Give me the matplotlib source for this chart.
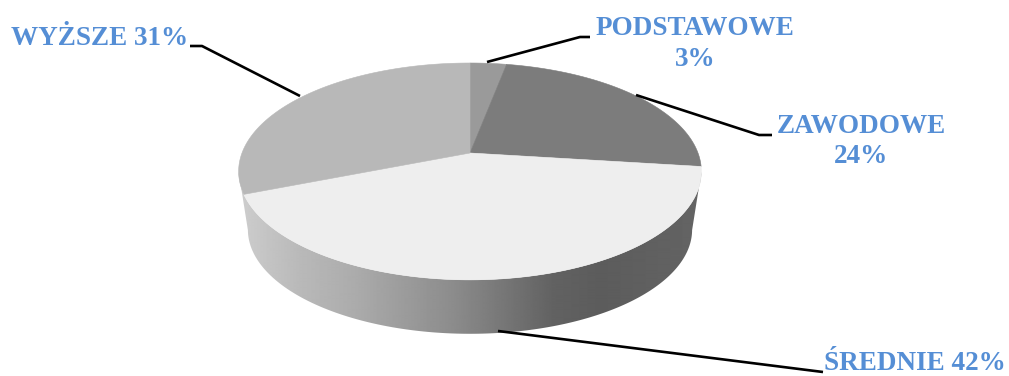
import numpy as np
import matplotlib
matplotlib.use('Agg')
import matplotlib.pyplot as plt
from matplotlib.patches import Polygon

labels = ['PODSTAWOWE\n3%', 'ZAWODOWE\n24%', 'ŚREDNIE 42%', 'WYŻSZE 31%']
shares = [3, 24, 42, 31]
colors = ['#9a9a9a', '#7c7c7c', '#eeeeee', '#b8b8b8']

BLUE = '#558ed5'

# perspective of the disc, everything in pixels
CX, CY = 470, 153
A, B, K = 105.3, 228, 0.17
DEPTH = 59
SHRINK = 0.96


def project(theta, scale=1.0, shift=0.0):
    # theta runs clockwise from 12 o'clock
    u, v = np.sin(theta), np.cos(theta)
    d = 1 + K * v
    return np.column_stack((CX + scale * B * u / d, CY + shift - scale * A * v / d))


fig = plt.figure(figsize=(10.09, 3.76), dpi=100)
ax = fig.add_axes([0, 0, 1, 1])

# side wall with its left to right shading, between the widest points of the rim
t = np.radians(np.linspace(100, 260, 200))
top_edge = project(t)
low_edge = project(t, SHRINK, DEPTH)
wall = Polygon(np.vstack((top_edge, low_edge[::-1])), closed=True,
               transform=ax.transData, fc='none', ec='none')
ax.add_patch(wall)

xs = np.arange(230, 710)
stops_x = [240, 300, 353, 453, 553, 600, 700]
stops_c = [205, 185, 172, 140, 98, 92, 100]
shade = np.interp(xs, stops_x, stops_c)[None, :]
im = ax.imshow(shade, cmap='gray', vmin=0, vmax=255, aspect='auto',
               extent=(230, 710, 340, 160), interpolation='bilinear')
im.set_clip_path(wall)

# top of the disc
edges = np.cumsum([0] + shares) / sum(shares) * 2 * np.pi
for start, end, col in zip(edges[:-1], edges[1:], colors):
    t = np.linspace(start, end, 120)
    pts = np.vstack(([CX, CY], project(t)))
    ax.add_patch(Polygon(pts, closed=True, fc=col, ec=col, lw=0.4))

# leader lines
leaders = [
    [(487, 62), (580, 37), (590, 37)],
    [(636, 95), (759, 135), (772, 135)],
    [(498, 331), (807, 370), (823, 372)],
    [(300, 96), (202, 46), (190, 46)],
]
for line in leaders:
    px, py = zip(*line)
    ax.plot(px, py, color='black', lw=1.9, solid_capstyle='butt')

# text
font = dict(family='Liberation Serif', fontweight='bold', fontsize=19.5, color=BLUE,
            linespacing=1.3)
ax.text(695, 44, labels[0], ha='center', va='center', multialignment='center', **font)
ax.text(861, 141.5, labels[1], ha='center', va='center', multialignment='center', **font)
ax.text(1006, 364, labels[2], ha='right', va='center', **font)
ax.text(11, 38.5, labels[3], ha='left', va='center', **font)

ax.set_xlim(0, 1009)
ax.set_ylim(376, 0)
ax.axis('off')

fig.savefig('out.png', dpi=100, facecolor='white')
